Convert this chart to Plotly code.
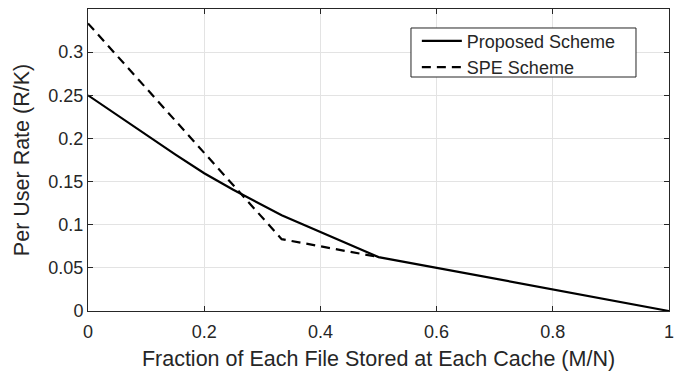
import plotly.graph_objects as go

# Data
proposed_x = [0, 0.05, 0.1, 0.15, 0.2, 0.25, 1/3, 0.5, 1.0]
proposed_y = [0.25, 0.2272, 0.2040, 0.1815, 0.1597, 0.1405, 0.1111, 0.0625, 0.0]

spe_x = [0, 1/3, 0.5]
spe_y = [1/3, 0.0833, 0.0625]

x_ticks = [0, 0.2, 0.4, 0.6, 0.8, 1]
y_ticks = [0, 0.05, 0.1, 0.15, 0.2, 0.25, 0.3]
y_tick_labels = ["0", "0.05", "0.1", "0.15", "0.2", "0.25", "0.3"]

txt = "#262626"
grid = "#e3e3e3"
fam = "Liberation Sans, Arial"

fig = go.Figure()
fig.add_trace(go.Scatter(x=proposed_x, y=proposed_y, mode="lines", name="Proposed Scheme",
                         line=dict(color="black", width=2.2)))
fig.add_trace(go.Scatter(x=spe_x, y=spe_y, mode="lines", name="SPE Scheme",
                         line=dict(color="black", width=2.2, dash="9px,6px")))

axis_common = dict(showline=True, linecolor=txt, linewidth=1, mirror="ticks",
                   ticks="inside", ticklen=5, tickcolor=txt, showgrid=True,
                   gridcolor=grid, gridwidth=1, zeroline=False, automargin=False,
                   tickfont=dict(family=fam, size=18, color=txt))

fig.update_xaxes(range=[0, 1], tickvals=x_ticks, ticktext=[str(v) for v in x_ticks],
                 ticklabelstandoff=4,
                 title=dict(text="Fraction of Each File Stored at Each Cache (M/N)",
                            font=dict(family=fam, size=21.5, color=txt),
                            standoff=10),
                 **axis_common)
fig.update_yaxes(range=[0, 0.35], tickvals=y_ticks, ticktext=y_tick_labels,
                 title=dict(text="Per User Rate (R/K)",
                            font=dict(family=fam, size=21.5, color=txt),
                            standoff=12),
                 **axis_common)

# legend frame
fig.add_shape(type="rect", xref="paper", yref="paper",
              x0=0.5559, x1=0.9432, y0=0.7748, y1=0.9371,
              line=dict(color=txt, width=1), fillcolor="white", layer="above")

fig.update_layout(
    width=684, height=373,
    margin=dict(l=88, r=15, t=9, b=62),
    plot_bgcolor="white", paper_bgcolor="white",
    showlegend=True,
    legend=dict(x=0.566, y=0.955, xanchor="left", yanchor="top",
                bgcolor="rgba(0,0,0,0)", borderwidth=0,
                font=dict(family=fam, size=18, color=txt),
                tracegroupgap=0, itemwidth=40),
)

fig.write_html("out.html", config={"displayModeBar": False},
               post_script="document.body.style.margin='0';document.body.style.padding='0';")
